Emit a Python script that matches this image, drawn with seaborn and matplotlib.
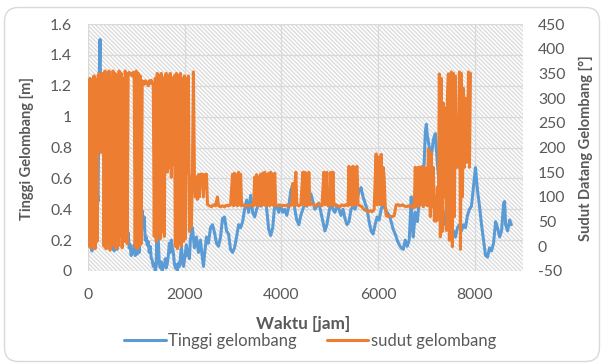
import numpy as np
import matplotlib
matplotlib.use("Agg")
import matplotlib.pyplot as plt
from matplotlib.patches import Rectangle, FancyBboxPatch
from matplotlib.lines import Line2D
from matplotlib.ticker import FuncFormatter
from matplotlib.transforms import IdentityTransform
import seaborn as sns

# Hourly wave record over one year (sampled)
jam_tinggi = [
    0, 21, 42, 62, 83, 104, 125, 145, 166, 187, 208, 228, 249, 270, 291, 312, 332, 353, 374, 395,
    415, 436, 457, 478, 498, 519, 540, 561, 582, 602, 623, 644, 665, 685, 706, 727, 748, 768, 789, 810,
    831, 852, 872, 893, 914, 935, 955, 976, 997, 1018, 1039, 1059, 1080, 1101, 1122, 1142, 1163, 1184, 1205, 1225,
    1246, 1267, 1288, 1309, 1329, 1350, 1371, 1392, 1412, 1433, 1454, 1475, 1495, 1516, 1537, 1558, 1579, 1599, 1620, 1641,
    1662, 1683, 1703, 1724, 1745, 1766, 1786, 1807, 1828, 1849, 1869, 1890, 1911, 1932, 1952, 1973, 1994, 2015, 2035, 2056,
    2077, 2098, 2118, 2160, 2202, 2243, 2285, 2326, 2368, 2389, 2409, 2451, 2492, 2534, 2575, 2617, 2659, 2700, 2742, 2783,
    2825, 2866, 2908, 2949, 2991, 3032, 3074, 3116, 3157, 3199, 3240, 3282, 3323, 3365, 3406, 3448, 3489, 3531, 3572, 3614,
    3656, 3697, 3739, 3780, 3822, 3863, 3905, 3946, 3988, 4029, 4071, 4113, 4154, 4196, 4237, 4279, 4320, 4362, 4403, 4445,
    4486, 4528, 4569, 4611, 4652, 4694, 4736, 4777, 4819, 4860, 4902, 4943, 4985, 5026, 5068, 5109, 5151, 5193, 5234, 5276,
    5317, 5359, 5400, 5442, 5483, 5525, 5566, 5608, 5649, 5691, 5733, 5774, 5816, 5857, 5899, 5940, 5982, 6023, 6065, 6106,
    6148, 6190, 6231, 6273, 6314, 6356, 6397, 6439, 6480, 6522, 6563, 6605, 6646, 6688, 6709, 6729, 6771, 6812, 6854, 6896,
    6937, 6979, 7000, 7020, 7062, 7103, 7145, 7186, 7228, 7269, 7310, 7352, 7394, 7435, 7477, 7519, 7560, 7602, 7643, 7685,
    7726, 7768, 7809, 7851, 7892, 7934, 7976, 8017, 8059, 8100, 8142, 8183, 8225, 8266, 8308, 8349, 8391, 8433, 8474, 8516,
    8557, 8599, 8620, 8640, 8682, 8724, 8760,
]
tinggi = [
    0.65, 0.55, 0.30, 0.15, 0.13, 0.25, 0.20, 0.35, 0.30, 0.55, 0.45, 1.20, 1.50, 0.90, 0.85, 0.95, 0.94, 0.75, 0.80, 0.64,
    0.55, 0.35, 0.20, 0.25, 0.15, 0.18, 0.13, 0.22, 0.16, 0.14, 0.25, 0.40, 0.52, 0.35, 0.30, 0.45, 0.40, 0.28, 0.35, 0.20,
    0.25, 0.15, 0.17, 0.10, 0.14, 0.12, 0.17, 0.10, 0.13, 0.11, 0.16, 0.12, 0.22, 0.30, 0.39, 0.28, 0.35, 0.20, 0.22, 0.17,
    0.19, 0.12, 0.16, 0.08, 0.07, 0.03, 0.05, 0.00, 0.03, 0.45, 0.20, 0.05, 0.02, 0.06, 0.00, 0.04, 0.03, 0.08, 0.02, 0.05,
    0.10, 0.18, 0.12, 0.20, 0.15, 0.12, 0.05, 0.02, 0.04, 0.00, 0.05, 0.03, 0.08, 0.17, 0.06, 0.03, 0.07, 0.12, 0.17, 0.10,
    0.14, 0.08, 0.20, 0.28, 0.15, 0.22, 0.12, 0.20, 0.08, 0.03, 0.10, 0.22, 0.18, 0.28, 0.30, 0.25, 0.18, 0.16, 0.22, 0.34,
    0.35, 0.26, 0.24, 0.14, 0.12, 0.15, 0.22, 0.30, 0.28, 0.32, 0.40, 0.46, 0.38, 0.49, 0.38, 0.35, 0.40, 0.44, 0.42, 0.50,
    0.52, 0.40, 0.27, 0.23, 0.28, 0.43, 0.42, 0.38, 0.42, 0.38, 0.40, 0.36, 0.42, 0.52, 0.56, 0.40, 0.33, 0.30, 0.36, 0.40,
    0.44, 0.42, 0.48, 0.50, 0.45, 0.40, 0.42, 0.44, 0.38, 0.32, 0.26, 0.30, 0.38, 0.45, 0.40, 0.38, 0.42, 0.40, 0.36, 0.40,
    0.34, 0.30, 0.32, 0.40, 0.42, 0.40, 0.46, 0.52, 0.54, 0.48, 0.44, 0.40, 0.32, 0.26, 0.24, 0.30, 0.35, 0.33, 0.40, 0.44,
    0.40, 0.38, 0.36, 0.32, 0.27, 0.24, 0.20, 0.17, 0.15, 0.14, 0.20, 0.16, 0.20, 0.48, 0.30, 0.22, 0.38, 0.32, 0.45, 0.60,
    0.55, 0.90, 0.95, 0.88, 0.80, 0.74, 0.85, 0.89, 0.70, 0.55, 0.45, 0.38, 0.30, 0.32, 0.28, 0.24, 0.26, 0.22, 0.28, 0.30,
    0.26, 0.30, 0.28, 0.36, 0.40, 0.42, 0.55, 0.67, 0.52, 0.42, 0.30, 0.20, 0.10, 0.09, 0.15, 0.13, 0.18, 0.32, 0.28, 0.22,
    0.26, 0.44, 0.45, 0.30, 0.26, 0.33, 0.30,
]

jam_sudut = [
    0, 21, 42, 62, 83, 104, 125, 145, 166, 187, 208, 228, 249, 270, 291, 312, 332, 353, 374, 395,
    415, 436, 457, 478, 498, 519, 540, 561, 582, 602, 623, 644, 665, 685, 706, 727, 748, 768, 789, 810,
    831, 852, 872, 893, 914, 935, 955, 976, 997, 1018, 1039, 1059, 1080, 1101, 1122, 1142, 1163, 1184, 1205, 1225,
    1246, 1267, 1288, 1309, 1329, 1350, 1371, 1392, 1412, 1433, 1454, 1475, 1495, 1516, 1537, 1558, 1579, 1599, 1620, 1641,
    1662, 1683, 1703, 1724, 1745, 1766, 1786, 1807, 1828, 1849, 1869, 1890, 1911, 1932, 1952, 1973, 1994, 2015, 2035, 2056,
    2077, 2098, 2118, 2139, 2160, 2181, 2202, 2222, 2243, 2264, 2285, 2306, 2326, 2347, 2368, 2389, 2409, 2430, 2451, 2472,
    2513, 2555, 2596, 2638, 2679, 2700, 2742, 2783, 2825, 2866, 2908, 2949, 2991, 3012, 3032, 3053, 3074, 3095, 3116, 3136,
    3157, 3178, 3219, 3261, 3302, 3344, 3386, 3427, 3448, 3469, 3489, 3510, 3531, 3552, 3572, 3593, 3614, 3635, 3656, 3676,
    3697, 3718, 3739, 3759, 3780, 3801, 3822, 3842, 3863, 3884, 3925, 3967, 4008, 4050, 4092, 4133, 4175, 4216, 4237, 4258,
    4300, 4320, 4362, 4403, 4445, 4466, 4486, 4507, 4528, 4549, 4569, 4590, 4632, 4673, 4715, 4756, 4798, 4840, 4881, 4902,
    4943, 4964, 5006, 5026, 5047, 5068, 5088, 5130, 5172, 5213, 5255, 5296, 5338, 5379, 5400, 5421, 5442, 5463, 5483, 5504,
    5525, 5546, 5566, 5587, 5629, 5670, 5712, 5753, 5795, 5837, 5878, 5920, 5961, 5982, 6003, 6023, 6044, 6065, 6086, 6106,
    6127, 6148, 6169, 6210, 6252, 6293, 6335, 6376, 6418, 6459, 6501, 6542, 6584, 6626, 6667, 6709, 6750, 6771, 6792, 6812,
    6833, 6854, 6875, 6896, 6916, 6937, 6958, 6979, 7000, 7020, 7041, 7062, 7083, 7103, 7124, 7145, 7166, 7186, 7207, 7228,
    7249, 7269, 7290, 7310, 7331, 7352, 7373, 7394, 7414, 7435, 7456, 7477, 7498, 7519, 7539, 7560, 7581, 7602, 7622, 7643,
    7664, 7685, 7706, 7726, 7747, 7768, 7789, 7809, 7830, 7851, 7872, 7892, 7913,
]
sudut = [
    335, 0, 340, -3, 330, 5, 345, -5, 338, 10, 345, 350, 340, 190, 350, 345, 0, 355, -5, 350,
    5, 355, -8, 340, 0, 355, 15, 350, -5, 345, 0, 355, 20, 350, -3, 340, 10, 355, 345, 5,
    350, 352, 348, 350, 345, 352, 350, 0, 355, -5, 350, 0, 345, 5, 335, 332, 328, 335, 330, 332,
    325, 335, 330, 336, 330, 328, 20, 340, 10, 350, 25, 345, 15, 350, 30, 340, 20, 345, 350, 150,
    345, 160, 350, 140, 340, 165, 345, 0, 350, -5, 345, 5, 350, 0, 340, 10, 345, 15, 340, 150,
    345, 30, 140, 40, 145, 353, 140, 100, 140, 95, 145, 100, 146, 140, 146, 100, 145, 140, 146, 85,
    82, 80, 84, 82, 100, 82, 80, 82, 80, 83, 82, 84, 146, 82, 148, 84, 145, 82, 150, 85,
    146, 82, 84, 82, 83, 82, 84, 82, 140, 84, 145, 82, 140, 85, 146, 82, 148, 84, 150, 82,
    145, 84, 148, 82, 150, 84, 146, 82, 148, 84, 82, 84, 82, 83, 82, 84, 82, 84, 127, 82,
    150, 84, 82, 84, 150, 84, 150, 82, 148, 84, 150, 84, 86, 84, 82, 86, 84, 82, 150, 84,
    150, 82, 84, 150, 84, 150, 82, 84, 82, 80, 84, 82, 84, 82, 162, 84, 160, 82, 162, 160,
    84, 158, 162, 84, 82, 80, 74, 72, 70, 72, 70, 74, 187, 84, 180, 150, 84, 186, 84, 160,
    140, 84, 62, 60, 61, 60, 62, 84, 84, 82, 84, 82, 80, 82, 80, 82, 78, 160, 80, 158,
    160, 82, 160, 84, 162, 80, 160, 85, 158, 82, 197, 160, 60, 190, 80, 160, 51, 100, 51, 120,
    55, 349, 19, 340, 30, 290, 100, 280, 32, 300, 349, 12, 345, 353, -1, 350, 60, 345, 160, 165,
    160, 353, -6, 350, 100, 320, 160, 300, 170, 200, 353, 160, 350,
]

nama_tinggi = "Tinggi gelombang"
nama_sudut = "sudut gelombang"
judul_x = "Waktu [jam]"
judul_y_kiri = "Tinggi Gelombang [m]"
judul_y_kanan = "Sudut Datang Gelombang [°]"

warna_tinggi = "#5B9BD5"
warna_sudut = "#ED7D31"
abu_teks = "#595959"
abu_garis = "#D9D9D9"

sns.set_theme(style="white")
plt.rcParams["font.family"] = ["Lato", "DejaVu Sans"]
plt.rcParams["hatch.linewidth"] = 1.0

W, H = 604, 364
fig = plt.figure(figsize=(W / 100, H / 100), dpi=100)
fig.patch.set_facecolor("white")

# rounded chart-area border (pixel coordinates)
bingkai = FancyBboxPatch((4.5, 2.5), 595, 354, boxstyle="round,pad=0,rounding_size=14",
                         transform=IdentityTransform(), facecolor="white",
                         edgecolor=abu_garis, linewidth=1.0, zorder=-10)
fig.patches.append(bingkai)

L, R, T, B = 88, 523, 24, 271
ax = fig.add_axes([L / W, 1 - B / H, (R - L) / W, (B - T) / H])
ax.patch.set_alpha(0)

# diagonal pattern filling the plot area
ax.add_patch(Rectangle((0, 0), 1, 1, transform=ax.transAxes, facecolor="white",
                       edgecolor="#DCDCDC", hatch="\\" * 8, linewidth=0, zorder=0))

sns.lineplot(x=jam_tinggi, y=tinggi, ax=ax, color=warna_tinggi, linewidth=2.2,
             errorbar=None, legend=False)
ax2 = ax.twinx()
sns.lineplot(x=jam_sudut, y=sudut, ax=ax2, color=warna_sudut, linewidth=2.2,
             errorbar=None, legend=False)

ax.set_xlim(0, 9000)
ax.set_xticks(np.arange(0, 8001, 2000))
ax.set_ylim(0, 1.6)
ax.set_yticks(np.round(np.arange(0, 1.61, 0.2), 1))
ax2.set_ylim(-50, 450)
ax2.set_yticks(np.arange(-50, 451, 50))

fmt = FuncFormatter(lambda v, p: f"{v:g}")
ax.yaxis.set_major_formatter(fmt)
ax.xaxis.set_major_formatter(fmt)
ax2.yaxis.set_major_formatter(fmt)

ax.set_axisbelow(True)
ax.grid(True, color=abu_garis, linewidth=0.9)
ax2.grid(False)
for a in (ax, ax2):
    for s in a.spines.values():
        s.set_visible(False)
    a.set_xlabel("")
    a.set_ylabel("")

ax.tick_params(axis="y", length=0, pad=11.5, labelsize=11.3, labelcolor=abu_teks)
ax.tick_params(axis="x", length=0, pad=12.5, labelsize=11.3, labelcolor=abu_teks)
ax2.tick_params(axis="y", length=0, pad=10.8, labelsize=11.3, labelcolor=abu_teks)

fig.text(27 / W, 1 - 149 / H, judul_y_kiri, rotation=90, ha="center", va="center",
         fontsize=10.5, fontweight="bold", color=abu_teks)
fig.text(586 / W, 1 - 148 / H, judul_y_kanan, rotation=90, ha="center", va="center",
         fontsize=10.5, fontweight="bold", color=abu_teks)
fig.text(303 / W, 1 - 324 / H, judul_x, ha="center", va="center",
         fontsize=12.3, fontweight="bold", color=abu_teks)

penanda = [Line2D([], [], color=warna_tinggi, linewidth=2.2),
           Line2D([], [], color=warna_sudut, linewidth=2.2)]
fig.legend(penanda, [nama_tinggi, nama_sudut], loc="center",
           bbox_to_anchor=(310 / W, 1 - 341 / H), ncol=2, frameon=False,
           handlelength=2.5, handletextpad=0.15, columnspacing=1.8,
           fontsize=12, labelcolor=abu_teks)

fig.savefig("out.png", dpi=100, facecolor="white")
